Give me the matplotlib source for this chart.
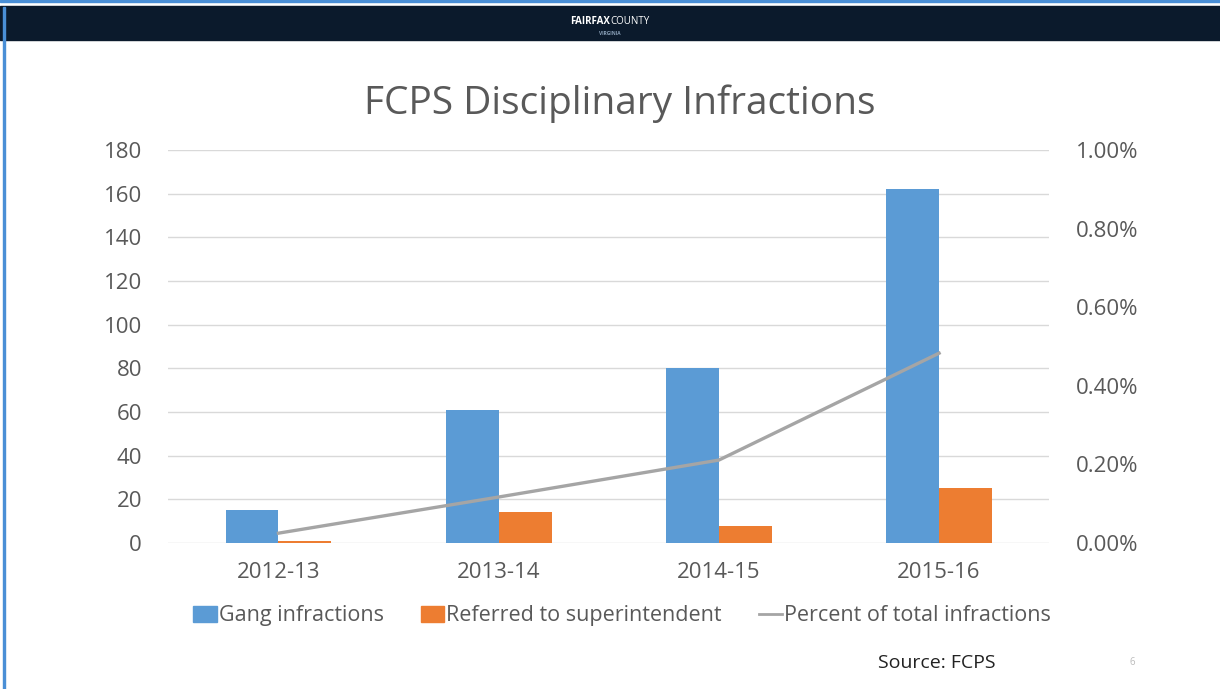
import numpy as np
import matplotlib.pyplot as plt
from matplotlib.patches import Rectangle
from matplotlib.lines import Line2D

plt.rcParams['font.family'] = ['Open Sans', 'DejaVu Sans']

# data
years = ['2012-13', '2013-14', '2014-15', '2015-16']
gang = [15, 61, 80, 162]
referred = [1, 14, 8, 25]
pct_total = [0.025, 0.117, 0.211, 0.483]   # percent

blue = '#5B9BD5'
orange = '#ED7D31'
grey = '#A5A5A5'
txt = '#595959'

fig = plt.figure(figsize=(12.2, 6.89), dpi=100)

# slide frame / header bar
fig.patches.append(Rectangle((0, 0.997), 1, 0.003, transform=fig.transFigure, color='#4a8fd6', zorder=0))
fig.patches.append(Rectangle((0, 0.942), 1, 0.049, transform=fig.transFigure, color='#0b1a2c', zorder=0))
fig.patches.append(Rectangle((0.0025, 0), 0.0018, 0.99, transform=fig.transFigure, color='#4a8fd6', zorder=0))
fig.text(0.5, 0.969, 'FAIRFAX', ha='right', va='center', color='white', fontsize=7, fontweight='bold')
fig.text(0.5, 0.969, 'COUNTY', ha='left', va='center', color='white', fontsize=7)
fig.text(0.5, 0.951, 'VIRGINIA', ha='center', va='center', color='#8aa0b8', fontsize=3.5, fontweight='bold')

ax = fig.add_axes([0.138, 0.2119, 0.722, 0.5704])
x = np.arange(len(years))
w = 0.24
ax.bar(x - w / 2, gang, w, color=blue, zorder=2)
ax.bar(x + w / 2, referred, w, color=orange, zorder=2)
ax.set_xlim(-0.5, 3.5)
ax.set_ylim(0, 180)
ax.set_yticks(range(0, 181, 20))
ax.grid(axis='y', color='#d9d9d9', linewidth=1, zorder=0)
ax.set_xticks(x)
ax.set_xticklabels(years)
ax.tick_params(length=0, labelsize=16, colors=txt, pad=14)
ax.tick_params(axis='y', pad=19)
for s in ax.spines.values():
    s.set_visible(False)

ax2 = ax.twinx()
ax2.plot(x, pct_total, color=grey, linewidth=2.4, zorder=3)
ax2.set_ylim(0, 1.0)
ax2.set_yticks([0, 0.2, 0.4, 0.6, 0.8, 1.0])
ax2.set_yticklabels([f'{v:.2f}%' for v in [0, 0.2, 0.4, 0.6, 0.8, 1.0]])
ax2.tick_params(length=0, labelsize=16, colors=txt, pad=19)
for s in ax2.spines.values():
    s.set_visible(False)

fig.text(0.508, 0.85, 'FCPS Disciplinary Infractions', ha='center', va='center', fontsize=28, color=txt)

handles = [Rectangle((0, 0), 1, 1, color=blue),
           Rectangle((0, 0), 1, 1, color=orange),
           Line2D([0], [0], color=grey, linewidth=2)]
fig.legend(handles, ['Gang infractions', 'Referred to superintendent', 'Percent of total infractions'],
           loc='center', bbox_to_anchor=(0.51, 0.106), ncol=3, frameon=False, fontsize=15.5,
           labelcolor=txt, handlelength=1.1, handleheight=0.8, handletextpad=0.1, columnspacing=1.7)

fig.text(0.72, 0.038, 'Source: FCPS', ha='left', va='center', fontsize=14, color='#222222')
fig.text(0.928, 0.038, '6', ha='center', va='center', fontsize=7, color='#bbbbbb')

fig.savefig('out.png', dpi=100)
